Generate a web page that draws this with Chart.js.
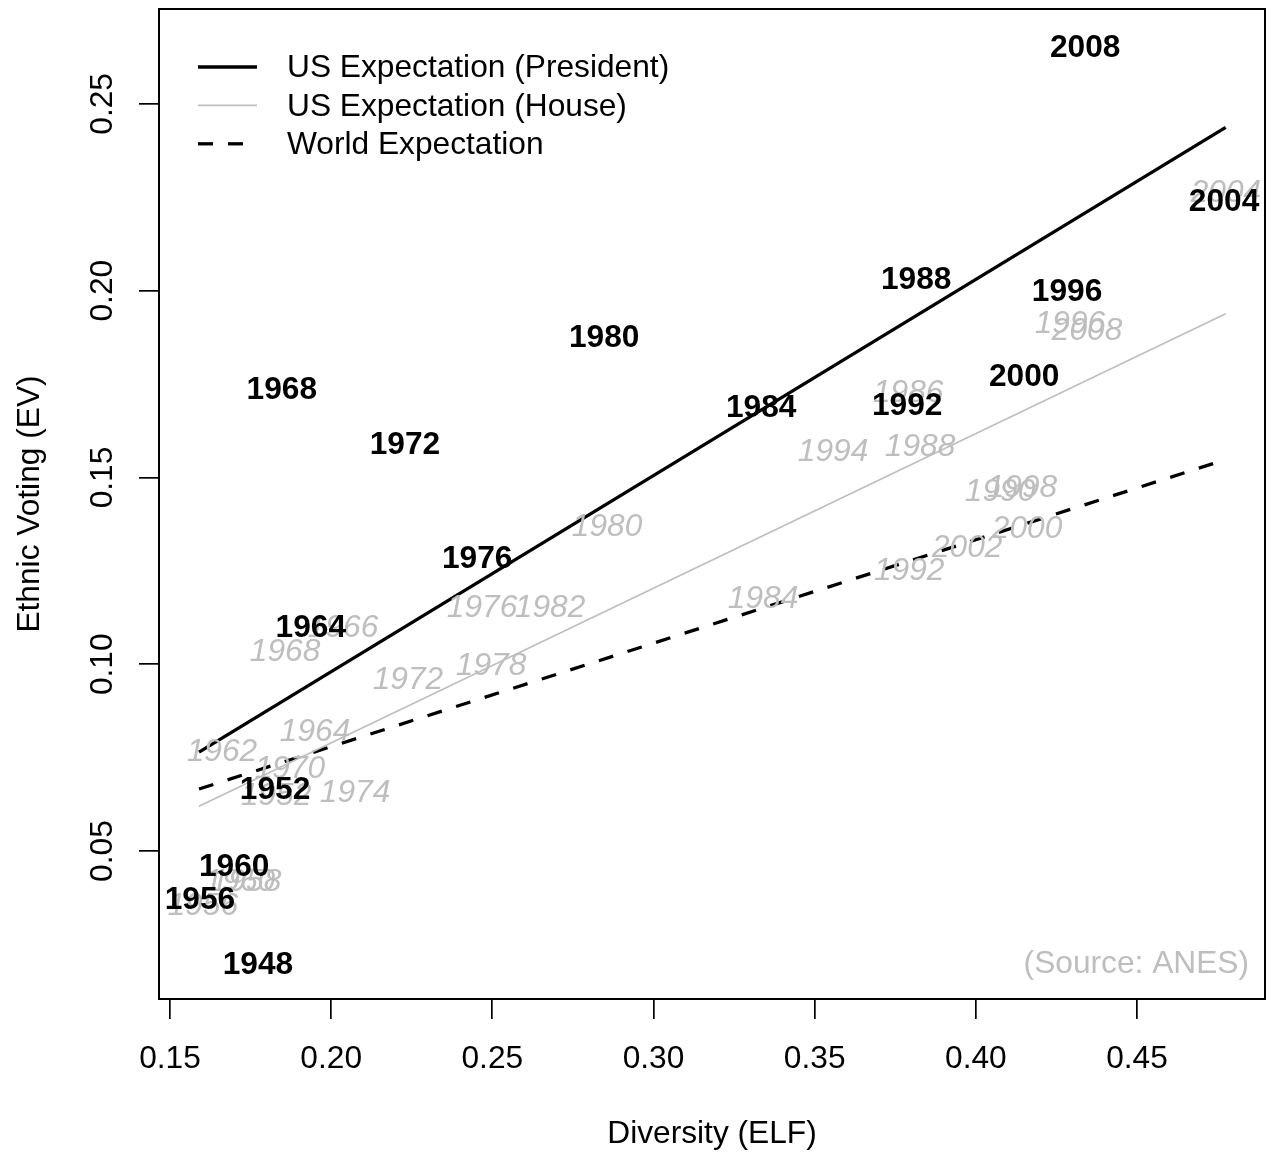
<!DOCTYPE html>
<html>
<head>
<meta charset="utf-8">
<script src="https://cdn.jsdelivr.net/npm/chart.js@4.4.0/dist/chart.umd.min.js"></script>
<style>
  html, body { margin: 0; padding: 0; background: #fff; }
  #wrap { width: 1271px; height: 1154px; }
</style>
</head>
<body>
<div id="wrap"><canvas id="chart" width="1271" height="1154"></canvas></div>
<script>
const FONT = '"Liberation Sans", Arial, Helvetica, sans-serif';
const GRAY = '#bebebe';
const FS = 31.7;

// presidential elections (bold black labels)
const presYears = ['1948', '1952', '1956', '1960', '1964', '1968', '1972', '1976',
                   '1980', '1984', '1988', '1992', '1996', '2000', '2004', '2008'];
const presX = [0.1773, 0.1826, 0.1593, 0.1699, 0.1937, 0.1847, 0.2229, 0.2453,
               0.2847, 0.3334, 0.3815, 0.3787, 0.4283, 0.4150, 0.4770, 0.4339];
const presY = [0.0198, 0.0668, 0.0372, 0.0460, 0.1101, 0.1737, 0.1590, 0.1286,
               0.1876, 0.1689, 0.2031, 0.1695, 0.1999, 0.1772, 0.2240, 0.2654];

// house elections (grey italic labels)
const houseYears = ['1952', '1956', '1958', '1960', '1962', '1964', '1966', '1968', '1970',
                    '1972', '1974', '1976', '1978', '1980', '1982', '1984', '1986', '1988',
                    '1990', '1992', '1994', '1996', '1998', '2000', '2002', '2004', '2008'];
const houseX = [0.1829, 0.1602, 0.1736, 0.1717, 0.1661, 0.1950, 0.2037, 0.1857, 0.1872,
                0.2238, 0.2074, 0.2468, 0.2496, 0.2856, 0.2679, 0.3340, 0.3790, 0.3827,
                0.4075, 0.3793, 0.3557, 0.4292, 0.4143, 0.4159, 0.3973, 0.4776, 0.4345];
const houseY = [0.0650, 0.0356, 0.0420, 0.0422, 0.0770, 0.0821, 0.1101, 0.1037, 0.0724,
                0.0962, 0.0658, 0.1155, 0.1000, 0.1371, 0.1155, 0.1179, 0.1729, 0.1585,
                0.1465, 0.1254, 0.1572, 0.1914, 0.1475, 0.1366, 0.1315, 0.2266, 0.1895];

// fitted expectation lines
const fitX = [0.1590, 0.4775];
const presFitY = [0.0765, 0.2437];
const houseFitY = [0.0620, 0.1938];
const worldFitY = [0.0666, 0.1548];

const xTicks = [0.15, 0.20, 0.25, 0.30, 0.35, 0.40, 0.45];
const xTickLabels = ['0.15', '0.20', '0.25', '0.30', '0.35', '0.40', '0.45'];
const yTicks = [0.05, 0.10, 0.15, 0.20, 0.25];
const yTickLabels = ['0.05', '0.10', '0.15', '0.20', '0.25'];

const legendItems = ['US Expectation (President)', 'US Expectation (House)', 'World Expectation'];

const pts = (xs, ys) => xs.map((x, i) => ({ x: x, y: ys[i] }));

const decorations = {
  id: 'decorations',
  afterDatasetsDraw(chart) {
    const ctx = chart.ctx;
    const area = chart.chartArea;
    const xs = chart.scales.x;
    const ys = chart.scales.y;
    ctx.save();

    // year labels: house first, then president on top
    ctx.textAlign = 'center';
    ctx.textBaseline = 'middle';
    [[3, 'italic ' + FS + 'px ' + FONT, GRAY], [4, 'bold ' + FS + 'px ' + FONT, '#000']].forEach(([idx, font, color]) => {
      const meta = chart.getDatasetMeta(idx);
      const labels = chart.data.datasets[idx].labels;
      ctx.font = font;
      ctx.fillStyle = color;
      meta.data.forEach((p, i) => ctx.fillText(labels[i], p.x, p.y + 1.5));
    });

    // box
    ctx.strokeStyle = '#000';
    ctx.lineWidth = 2;
    ctx.strokeRect(area.left, area.top, area.width, area.height);

    // tick labels
    ctx.font = FS + 'px ' + FONT;
    ctx.fillStyle = '#000';
    xTicks.forEach((v, i) => ctx.fillText(xTickLabels[i], xs.getPixelForValue(v), area.bottom + 60.5));
    yTicks.forEach((v, i) => {
      ctx.save();
      ctx.translate(area.left - 56, ys.getPixelForValue(v));
      ctx.rotate(-Math.PI / 2);
      ctx.fillText(yTickLabels[i], 0, 0);
      ctx.restore();
    });

    // axis titles
    ctx.fillText('Diversity (ELF)', (area.left + area.right) / 2, area.bottom + 135);
    ctx.save();
    ctx.translate(30, (area.top + area.bottom) / 2);
    ctx.rotate(-Math.PI / 2);
    ctx.fillText('Ethnic Voting (EV)', 0, 0);
    ctx.restore();

    // legend
    const styles = [
      { color: '#000', width: 3.3, dash: [] },
      { color: GRAY, width: 1.6, dash: [] },
      { color: '#000', width: 3.3, dash: [15, 15] }
    ];
    ctx.textAlign = 'left';
    legendItems.forEach((txt, i) => {
      const y = area.top + 58 + i * 38.4;
      const s = styles[i];
      ctx.beginPath();
      ctx.strokeStyle = s.color;
      ctx.lineWidth = s.width;
      ctx.setLineDash(s.dash);
      ctx.moveTo(area.left + 39, y);
      ctx.lineTo(area.left + 98, y);
      ctx.stroke();
      ctx.setLineDash([]);
      ctx.fillStyle = '#000';
      ctx.fillText(txt, area.left + 128, y + 1.5);
    });

    // source note
    ctx.textAlign = 'right';
    ctx.fillStyle = GRAY;
    ctx.fillText('(Source: ANES)', area.right - 16, area.bottom - 35);

    ctx.restore();
  }
};

new Chart(document.getElementById('chart'), {
  type: 'scatter',
  data: {
    datasets: [
      { label: 'US Expectation (President)', data: pts(fitX, presFitY), showLine: true,
        borderColor: '#000', borderWidth: 3.3, pointRadius: 0 },
      { label: 'US Expectation (House)', data: pts(fitX, houseFitY), showLine: true,
        borderColor: GRAY, borderWidth: 1.6, pointRadius: 0 },
      { label: 'World Expectation', data: pts(fitX, worldFitY), showLine: true,
        borderColor: '#000', borderWidth: 3.3, borderDash: [15, 15], pointRadius: 0 },
      { label: 'House', data: pts(houseX, houseY), labels: houseYears, pointRadius: 0 },
      { label: 'President', data: pts(presX, presY), labels: presYears, pointRadius: 0 }
    ]
  },
  options: {
    responsive: false,
    animation: false,
    layout: { padding: { top: 9, right: 6, left: 0, bottom: 0 } },
    plugins: { legend: { display: false }, tooltip: { enabled: false } },
    scales: {
      x: {
        type: 'linear', min: 0.14659, max: 0.48970,
        afterBuildTicks: s => { s.ticks = xTicks.map(v => ({ value: v })); },
        afterFit: s => { s.height = 155; },
        ticks: { display: false },
        border: { display: false },
        grid: { drawOnChartArea: false, drawTicks: true, tickLength: 20, color: '#000', lineWidth: 1.7 }
      },
      y: {
        type: 'linear', min: 0.0104, max: 0.2754,
        afterBuildTicks: s => { s.ticks = yTicks.map(v => ({ value: v })); },
        afterFit: s => { s.width = 159; },
        ticks: { display: false },
        border: { display: false },
        grid: { drawOnChartArea: false, drawTicks: true, tickLength: 20, color: '#000', lineWidth: 1.7 }
      }
    }
  },
  plugins: [decorations]
});
</script>
</body>
</html>
